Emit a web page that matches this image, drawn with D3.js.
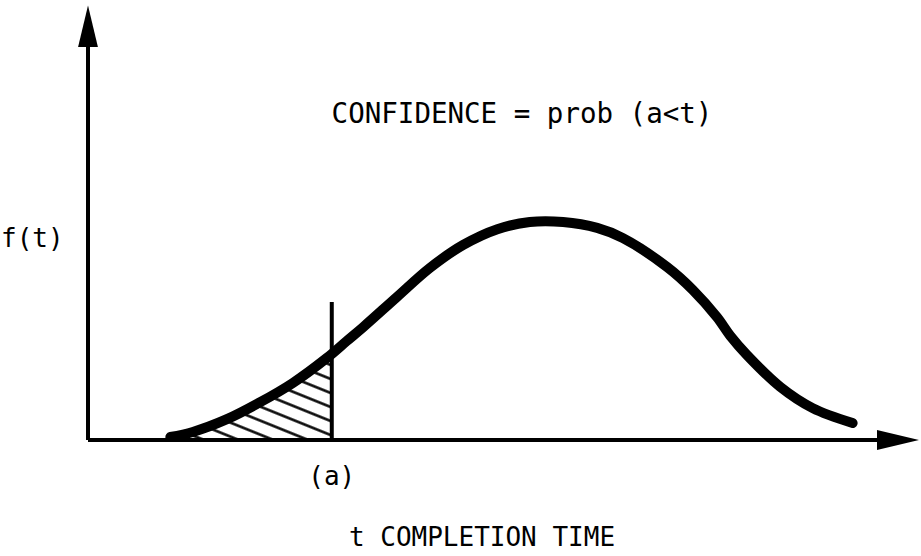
<!DOCTYPE html>
<html>
<head>
<meta charset="utf-8">
<script src="https://cdn.jsdelivr.net/npm/d3@7"></script>
<style>
  html, body { margin: 0; padding: 0; background: #fff; }
  svg { display: block; }
  text { font-family: "DejaVu Sans Mono", "Liberation Mono", monospace; fill: #000; }
</style>
</head>
<body>
<div id="chart"></div>
<script>
// completion time t (arbitrary units) and density f(t)
const tValues = [0.99, 1.26, 1.67, 2.07, 2.46, 2.87, 3.11, 3.31, 3.71, 4.11, 4.51, 4.92, 5.31,
  5.71, 6.12, 6.43, 6.96, 7.27, 7.56, 7.72, 7.92, 8.32, 8.71, 9.19];
const fValues = [0.07, 0.19, 0.49, 0.89, 1.34, 1.93, 2.33, 2.66, 3.36, 4.05, 4.59, 4.96, 5.13,
  5.13, 4.99, 4.75, 4.07, 3.53, 2.89, 2.45, 2.00, 1.25, 0.75, 0.40];

// the cut point (a) and the height of its marker line
const cutT = 2.93;
const cutTop = 3.25;

// axis extents (arrow tips)
const xMax = 10;
const yMax = 10.25;

const labels = {
  title: 'CONFIDENCE = prob (a<t)',
  yLabel: 'f(t)',
  cut: '(a)',
  xLabel: 't COMPLETION TIME'
};

const width = 921;
const height = 556;

const svg = d3.select('#chart')
    .append('svg')
    .attr('width', width)
    .attr('height', height);

const x = d3.scaleLinear().domain([0, 10]).range([88, 920]);
const y = d3.scaleLinear().domain([0, 10]).range([440, 15]);

const data = tValues.map((t, i) => ({t: t, f: fValues[i]}));

const defs = svg.append('defs');

// hatch pattern
const pattern = defs.append('pattern')
    .attr('id', 'hatch')
    .attr('patternUnits', 'userSpaceOnUse')
    .attr('width', 40)
    .attr('height', 13)
    .attr('patternTransform', 'rotate(22)');
pattern.append('line')
    .attr('x1', 0).attr('y1', 6.5)
    .attr('x2', 40).attr('y2', 6.5)
    .attr('stroke', '#000')
    .attr('stroke-width', 2.6);

defs.append('clipPath')
    .attr('id', 'cut-clip')
    .append('rect')
    .attr('x', x(0))
    .attr('y', y(yMax))
    .attr('width', x(cutT) - x(0))
    .attr('height', y(0) - y(yMax));

// arrowheads
const arrow = defs.append('marker')
    .attr('id', 'arrow')
    .attr('viewBox', '0 0 42 20')
    .attr('refX', 2)
    .attr('refY', 10)
    .attr('markerWidth', 42)
    .attr('markerHeight', 20)
    .attr('markerUnits', 'userSpaceOnUse')
    .attr('orient', 'auto');
arrow.append('path')
    .attr('d', 'M0,0 L42,10 L0,20 Z')
    .attr('fill', '#000');

const curve = d3.curveCatmullRom.alpha(0.5);

// hatched area up to (a)
const area = d3.area()
    .x((d) => x(d.t))
    .y0(y(0))
    .y1((d) => y(d.f))
    .curve(curve);

svg.append('path')
    .datum(data)
    .attr('d', area)
    .attr('fill', 'url(#hatch)')
    .attr('clip-path', 'url(#cut-clip)');

// axes
svg.append('line')
    .attr('x1', x(0)).attr('y1', y(0))
    .attr('x2', x(0)).attr('y2', y(yMax) + 41)
    .attr('stroke', '#000')
    .attr('stroke-width', 4)
    .attr('marker-end', 'url(#arrow)');

svg.append('line')
    .attr('x1', x(0)).attr('y1', y(0))
    .attr('x2', x(xMax) - 41).attr('y2', y(0))
    .attr('stroke', '#000')
    .attr('stroke-width', 4)
    .attr('marker-end', 'url(#arrow)');

// line at (a)
svg.append('line')
    .attr('x1', x(cutT)).attr('y1', y(0))
    .attr('x2', x(cutT)).attr('y2', y(cutTop))
    .attr('stroke', '#000')
    .attr('stroke-width', 4);

// density curve
const line = d3.line()
    .x((d) => x(d.t))
    .y((d) => y(d.f))
    .curve(curve);

svg.append('path')
    .datum(data)
    .attr('d', line)
    .attr('fill', 'none')
    .attr('stroke', '#000')
    .attr('stroke-width', 10)
    .attr('stroke-linecap', 'round')
    .attr('stroke-linejoin', 'round');

// texts
svg.append('text')
    .attr('x', 522).attr('y', 123)
    .attr('text-anchor', 'middle')
    .attr('font-size', 27.5)
    .text(labels.title);

svg.append('text')
    .attr('x', 1).attr('y', 247)
    .attr('font-size', 26)
    .text(labels.yLabel);

svg.append('text')
    .attr('x', x(cutT)).attr('y', 485)
    .attr('text-anchor', 'middle')
    .attr('font-size', 26)
    .text(labels.cut);

svg.append('text')
    .attr('x', 482).attr('y', 546)
    .attr('text-anchor', 'middle')
    .attr('font-size', 26)
    .text(labels.xLabel);
</script>
</body>
</html>
